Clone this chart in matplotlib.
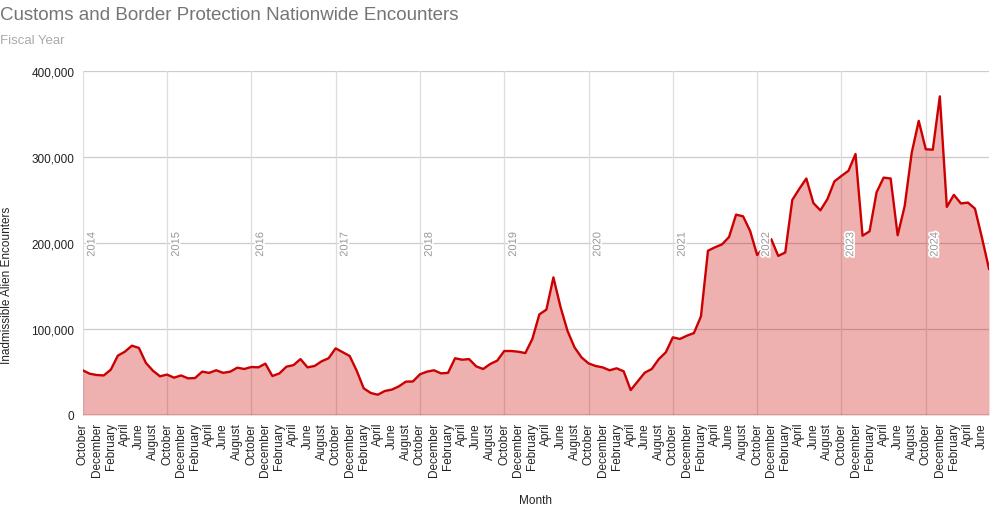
import matplotlib
matplotlib.use("Agg")
import matplotlib.pyplot as plt
import matplotlib.patheffects as pe
import numpy as np

plt.rcParams['font.family'] = ['Liberation Sans', 'DejaVu Sans']

# monthly encounters, Oct 2013 .. Jul 2024 (thousands)
fy2014 = [52, 48, 46.5, 46, 52.7, 69, 73.6, 80.6, 78, 60.5, 51.5, 45]
fy2015 = [47, 43.4, 46, 42.6, 43, 50.4, 49, 52, 49, 50.4, 55, 53.5]
fy2016 = [55.8, 55.4, 59.7, 45.3, 48.4, 56.2, 58, 65, 55.4, 57, 62.4, 66]
fy2017 = [77.5, 73, 68.6, 51.5, 31, 25.6, 23.6, 27.9, 29.5, 33.3, 38.8, 39]
fy2018 = [47.3, 50.4, 52, 48.4, 49, 66, 64.3, 65, 56.6, 53.5, 59.3, 63.2]
fy2019 = [74.4, 74.4, 73.6, 72, 88.4, 117, 122.5, 160, 126, 98, 78.7, 67]
fy2020 = [60, 57, 55.4, 52, 54.3, 50.8, 29, 39, 49.2, 53.5, 65, 72.9]
fy2021 = [90.3, 88.4, 92.2, 95.3, 114.7, 191, 195, 198.4, 207, 233, 231, 214]
fy2022 = [186, 195, 204.6, 185, 189, 250, 263, 275, 246.5, 238, 251, 271.7]
fy2023 = [278, 284, 303.5, 208.5, 213.6, 259, 276, 275, 209, 243, 305, 342]
fy2024 = [309, 308.5, 370.5, 242, 256, 246, 247, 240, 206, 170]

fiscal_years = [2014, 2015, 2016, 2017, 2018, 2019, 2020, 2021, 2022, 2023, 2024]
month_names = ['October', 'November', 'December', 'January', 'February', 'March',
               'April', 'May', 'June', 'July', 'August', 'September']

values = np.array(fy2014 + fy2015 + fy2016 + fy2017 + fy2018 + fy2019 +
                  fy2020 + fy2021 + fy2022 + fy2023 + fy2024) * 1000
idx = np.arange(len(values))
labels = [month_names[i % 12] for i in idx]

fig = plt.figure(figsize=(9.9, 5.1), dpi=100)
ax = fig.add_axes([82.7 / 990, 1 - 416 / 510, 906.3 / 990, 344 / 510])

ax.fill_between(idx, values, 0, color='#cc0000', alpha=0.31, lw=0, zorder=2)
ax.plot(idx, values, color='#cc0000', lw=1.7, zorder=3)

ax.set_xlim(0, len(values) - 1)
ax.set_ylim(0, 400000)
ax.set_yticks([0, 100000, 200000, 300000, 400000])
ax.set_yticklabels(['0', '100,000', '200,000', '300,000', '400,000'])
ax.set_xticks(idx[::2])
ax.set_xticklabels(labels[::2], rotation=90, va='top', ha='center')
ax.tick_params(axis='both', length=0, labelsize=8.5, colors='#222222')
ax.tick_params(axis='x', pad=5)
ax.tick_params(axis='y', pad=6)

# grid
for v in [100000, 200000, 300000, 400000]:
    ax.axhline(v, color='#cccccc', lw=0.9, zorder=1)
for k in range(len(fiscal_years)):
    ax.axvline(k * 12, color='#dddddd', lw=0.9, zorder=1)
    ax.text(k * 12 + 1.25, 184000, str(fiscal_years[k]), rotation=90,
            ha='center', va='bottom', fontsize=8, color='#999999', zorder=4,
            path_effects=[pe.withStroke(linewidth=2.5, foreground='white')])
ax.axhline(0, color='#444444', lw=1.0, zorder=4)

for s in ax.spines.values():
    s.set_visible(False)

fig.text(0.0005, 1 - 20 / 510, 'Customs and Border Protection Nationwide Encounters',
         fontsize=13.5, color='#757575', va='baseline', ha='left')
fig.text(0.0005, 1 - 44 / 510, 'Fiscal Year', fontsize=9.5, color='#aaaaaa',
         va='baseline', ha='left')
fig.text(0.007, 1 - 285 / 510, 'Inadmissible Alien Encounters', rotation=90,
         fontsize=8.5, color='#222222', va='center', ha='center')
fig.text(536 / 990, 1 - 501 / 510, 'Month', fontsize=8.5, color='#222222',
         va='center', ha='center')

fig.savefig('out.png', dpi=100)
